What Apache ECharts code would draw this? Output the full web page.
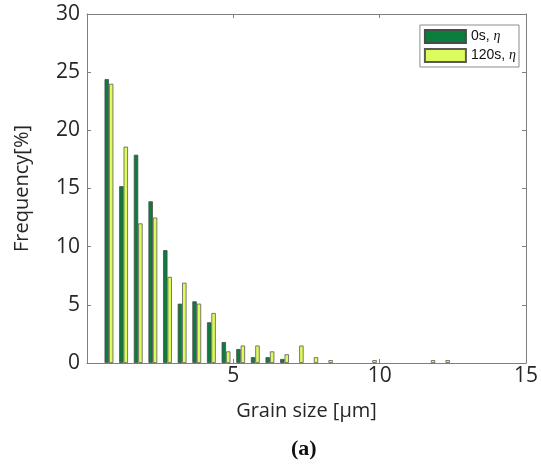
<!DOCTYPE html>
<html>
<head>
<meta charset="utf-8">
<script src="https://cdn.jsdelivr.net/npm/echarts@6/dist/echarts.min.js"></script>
<style>
  html, body { margin: 0; padding: 0; background: #fff; }
  #chart { width: 541px; height: 468px; }
</style>
</head>
<body>
<div id="chart"></div>
<script>
// Grain size bins (centres, µm) and frequency (%) for each state
const binCenters = [0.75, 1.25, 1.75, 2.25, 2.75, 3.25, 3.75, 4.25, 4.75, 5.25, 5.75, 6.25, 6.75,
                    7.25, 7.75, 8.25, 8.75, 9.25, 9.75, 10.25, 10.75, 11.25, 11.75, 12.25];
const freq0s   = [24.4, 15.2, 17.9, 13.9, 9.7, 5.1, 5.3, 3.5, 1.8, 1.2, 0.5, 0.5, 0.35,
                  0, 0, 0, 0, 0, 0, 0, 0, 0, 0, 0];
const freq120s = [24.0, 18.6, 12.0, 12.5, 7.4, 6.9, 5.1, 4.3, 1.0, 1.5, 1.5, 1.0, 0.75,
                  1.5, 0.5, 0.25, 0, 0, 0.25, 0, 0, 0, 0.25, 0.25];
const seriesNames = ['0s, η', '120s, η'];
const xTicks = { min: 0, max: 15, interval: 5 };
const yTicks = { min: 0, max: 30, interval: 5 };

// pair each bin with its value, leaving empty bins out
function pairs(values) {
  const out = [];
  values.forEach((v, i) => { if (v > 0) out.push([binCenters[i], v]); });
  return out;
}

const axisGray = '#7f7f7f';
const labelFont = { fontFamily: 'Open Sans', fontSize: 21, color: '#262626' };
const boxLine = { show: true, onZero: false, lineStyle: { color: axisGray, width: 1 } };
const inTick = { show: true, inside: true, length: 4, lineStyle: { color: axisGray } };

const chart = echarts.init(document.getElementById('chart'), null, { renderer: 'canvas' });
chart.setOption({
  animation: false,
  backgroundColor: '#ffffff',
  grid: { left: 87, right: 12, top: 14, bottom: 105 },
  legend: {
    right: 22, top: 25,
    orient: 'vertical',
    icon: 'rect',
    itemWidth: 41, itemHeight: 13, itemGap: 4,
    padding: [4, 3, 4, 4],
    borderColor: '#8c8c8c', borderWidth: 1,
    backgroundColor: '#fff',
    formatter: function (name) {
      const parts = name.split(', ');
      return '{n|' + parts[0] + ', }{i|' + parts[1] + '}';
    },
    textStyle: {
      rich: {
        n: { fontFamily: 'Liberation Sans', fontSize: 14, color: '#111' },
        i: { fontFamily: 'Liberation Serif', fontStyle: 'italic', fontSize: 14, color: '#111' }
      }
    },
    data: seriesNames
  },
  xAxis: [
    {
      type: 'value', position: 'bottom',
      min: xTicks.min, max: xTicks.max, interval: xTicks.interval,
      name: 'Grain size [µm]', nameLocation: 'middle', nameGap: 38,
      nameTextStyle: { fontFamily: 'Open Sans', fontSize: 20, color: '#262626' },
      axisLine: boxLine,
      axisTick: inTick,
      axisLabel: Object.assign({ margin: 3, showMinLabel: false }, labelFont),
      splitLine: { show: false }
    },
    {
      type: 'value', position: 'top',
      min: xTicks.min, max: xTicks.max, interval: xTicks.interval,
      axisLine: boxLine,
      axisTick: inTick,
      axisLabel: { show: false },
      splitLine: { show: false }
    }
  ],
  yAxis: [
    {
      type: 'value', position: 'left',
      min: yTicks.min, max: yTicks.max, interval: yTicks.interval,
      name: 'Frequency[%]', nameLocation: 'middle', nameGap: 55,
      nameTextStyle: { fontFamily: 'Open Sans', fontSize: 20, color: '#262626' },
      axisLine: boxLine,
      axisTick: inTick,
      axisLabel: Object.assign({ margin: 7 }, labelFont),
      splitLine: { show: false }
    },
    {
      type: 'value', position: 'right',
      min: yTicks.min, max: yTicks.max, interval: yTicks.interval,
      axisLine: boxLine,
      axisTick: inTick,
      axisLabel: { show: false },
      splitLine: { show: false }
    }
  ],
  series: [
    {
      name: seriesNames[0], type: 'bar',
      xAxisIndex: 0, yAxisIndex: 0,
      barWidth: 4.4, barGap: '0%',
      itemStyle: { color: '#0b7d3c', borderColor: '#4a4a4a', borderWidth: 0.8 },
      data: pairs(freq0s)
    },
    {
      name: seriesNames[1], type: 'bar',
      xAxisIndex: 0, yAxisIndex: 0,
      barWidth: 4.4, barGap: '0%',
      itemStyle: { color: '#dcfb5c', borderColor: '#5a5a5a', borderWidth: 0.8 },
      data: pairs(freq120s)
    }
  ],
  graphic: [
    {
      type: 'text', left: 291, top: 438,
      style: { text: '(a)', fontFamily: 'Liberation Serif', fontWeight: 'bold', fontSize: 22, fill: '#111' }
    }
  ]
});
</script>
</body>
</html>
